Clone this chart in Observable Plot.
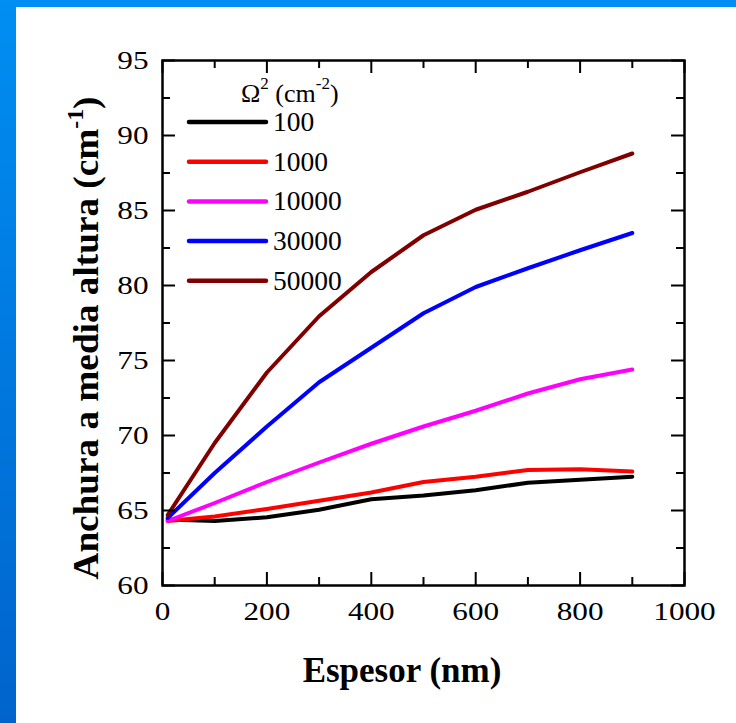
<!DOCTYPE html>
<html><head><meta charset="utf-8">
<script src="https://cdn.jsdelivr.net/npm/d3@7"></script>
<script src="https://cdn.jsdelivr.net/npm/@observablehq/plot@0.6"></script>
<style>
html,body{margin:0;padding:0;width:736px;height:723px;overflow:hidden;background:linear-gradient(#008ef2,#0064cc);}
#page{position:absolute;left:16px;top:7px;right:0;bottom:0;background:#fff;}
#chart{position:absolute;left:0;top:0;}
#chart svg, #chart svg text{font-family:"Liberation Serif","Times New Roman",serif !important;}
</style></head>
<body><div id="page"></div><div id="chart"></div>
<script>
// ---- data ----
const thickness = [10, 100, 200, 300, 400, 500, 600, 700, 800, 900];
const seriesNames = ["100", "1000", "10000", "30000", "50000"];
const seriesColors = ["#000000", "#ff0000", "#ff00ff", "#0000ff", "#800000"];
const omega100   = [64.4, 64.3, 64.55, 65.05, 65.75, 66.0, 66.35, 66.85, 67.05, 67.25];
const omega1000  = [64.3, 64.6, 65.1, 65.65, 66.2, 66.9, 67.25, 67.7, 67.75, 67.6];
const omega10000 = [64.3, 65.5, 66.9, 68.2, 69.45, 70.6, 71.65, 72.8, 73.75, 74.4];
const omega30000 = [64.5, 67.5, 70.6, 73.55, 75.85, 78.15, 79.9, 81.15, 82.35, 83.5];
const omega50000 = [64.7, 69.5, 74.2, 77.95, 80.9, 83.35, 85.05, 86.25, 87.55, 88.8];
const seriesValues = [omega100, omega1000, omega10000, omega30000, omega50000];
const xTicks = [0, 200, 400, 600, 800, 1000];
const xMinorTicks = [100, 300, 500, 700, 900];
const yTicks = [60, 65, 70, 75, 80, 85, 90, 95];
const yMinorTicks = [62.5, 67.5, 72.5, 77.5, 82.5, 87.5, 92.5];
const xTitle = "Espesor (nm)";
const yTitle = "Anchura a media altura (cm";
const yTitleSup = "-1";
const legendTitle = ["Ω", "2", " (cm", "-2", ")"];

const rows = [];
seriesNames.forEach((s, i) => thickness.forEach((t, j) => rows.push({x: t, y: seriesValues[i][j], series: s})));

const W = 736, H = 723, mL = 162, mR = 52, mT = 60, mB = 138;
const fw = W - mL - mR, fh = H - mT - mB;
const major = 13, minor = 8;
const serif = "Liberation Serif, Times New Roman, serif";

const chart = Plot.plot({
  width: W, height: H,
  marginLeft: mL, marginRight: mR, marginTop: mT, marginBottom: mB,
  style: {background: "transparent", fontFamily: serif, color: "black"},
  x: {domain: [0, 1000]},
  y: {domain: [60, 95]},
  color: {domain: seriesNames, range: seriesColors},
  marks: [
    Plot.line(rows, {x: "x", y: "y", z: "series", stroke: "series", strokeWidth: 4, strokeLinecap: "round", strokeLinejoin: "round"}),
    Plot.tickX(xTicks, {x: d => d, insetTop: fh - major, strokeWidth: 2}),
    Plot.tickX(xTicks, {x: d => d, insetBottom: fh - major, strokeWidth: 2}),
    Plot.tickX(xMinorTicks, {x: d => d, insetTop: fh - minor, strokeWidth: 2}),
    Plot.tickX(xMinorTicks, {x: d => d, insetBottom: fh - minor, strokeWidth: 2}),
    Plot.tickY(yTicks, {y: d => d, insetRight: fw - major, strokeWidth: 2}),
    Plot.tickY(yTicks, {y: d => d, insetLeft: fw - major, strokeWidth: 2}),
    Plot.tickY(yMinorTicks, {y: d => d, insetRight: fw - minor, strokeWidth: 2}),
    Plot.tickY(yMinorTicks, {y: d => d, insetLeft: fw - minor, strokeWidth: 2}),
    Plot.axisX({ticks: xTicks, tickSize: 0, tickPadding: 16, fontSize: 26, fontFamily: serif, tickFormat: d => String(d), label: null}),
    Plot.axisY({ticks: yTicks, tickSize: 0, tickPadding: 14, fontSize: 26, fontFamily: serif, tickFormat: d => String(d), label: null}),
    Plot.frame({strokeWidth: 2.5})
  ]
});
document.getElementById("chart").appendChild(chart);

const svg = d3.select(chart);
// widen tick labels horizontally to match the reference's glyph proportions
svg.selectAll("g[aria-label$='tick label'] text").each(function() {
  const w = this.getComputedTextLength();
  if (w > 0) d3.select(this).attr("textLength", w * 1.2).attr("lengthAdjust", "spacingAndGlyphs");
});

// ---- titles and legend ----
svg.append("text")
  .attr("x", 402).attr("y", 682)
  .attr("text-anchor", "middle")
  .attr("font-size", 35).attr("font-weight", "bold").attr("fill", "black")
  .text(xTitle);

const yt = svg.append("text")
  .attr("transform", "translate(98,338) rotate(-90)")
  .attr("text-anchor", "middle")
  .attr("font-size", 36).attr("font-weight", "bold").attr("fill", "black");
yt.append("tspan").text(yTitle);
yt.append("tspan").attr("font-size", 23).attr("dy", -15).text(yTitleSup);
yt.append("tspan").attr("dy", 15).text(")");
{
  const w = yt.node().getComputedTextLength();
  if (w > 0) yt.attr("textLength", 483).attr("lengthAdjust", "spacingAndGlyphs");
}

const lt = svg.append("text").attr("x", 241).attr("y", 102).attr("text-anchor", "start")
  .attr("font-size", 26).attr("fill", "black");
lt.append("tspan").text(legendTitle[0]);
lt.append("tspan").attr("font-size", 17).attr("dy", -13).text(legendTitle[1]);
lt.append("tspan").attr("dy", 13).text(legendTitle[2]);
lt.append("tspan").attr("font-size", 17).attr("dy", -13).text(legendTitle[3]);
lt.append("tspan").attr("dy", 13).text(legendTitle[4]);

const lg = svg.append("g").attr("text-anchor", "start");
seriesNames.forEach((s, i) => {
  const y = 122 + i * 39.7;
  lg.append("line").attr("x1", 189).attr("x2", 266).attr("y1", y).attr("y2", y)
    .attr("stroke", seriesColors[i]).attr("stroke-width", 4.5).attr("stroke-linecap", "round");
  lg.append("text").attr("x", 273).attr("y", y + 9).attr("font-size", 27.5).attr("fill", "black").text(s);
});
</script>
</body></html>
